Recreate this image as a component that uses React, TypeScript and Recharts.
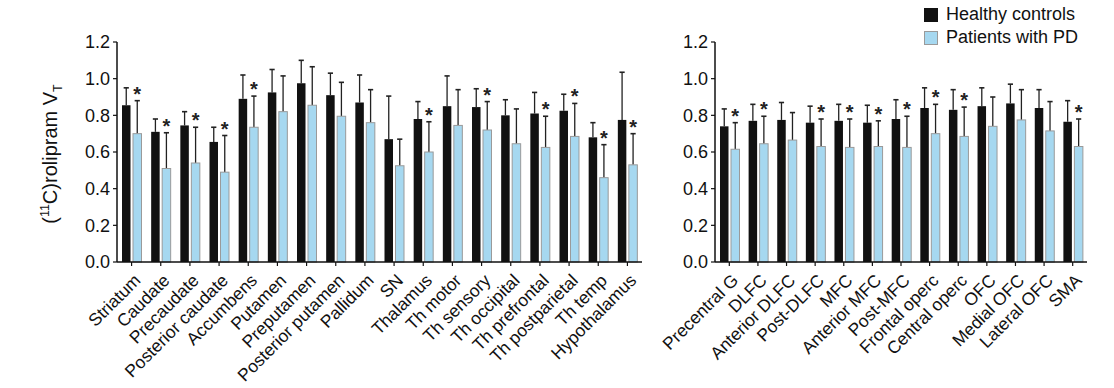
import React from 'react';
import { BarChart, Bar, XAxis, YAxis, Legend } from 'recharts';

// subcortical panel
const subRegions = [
  'Striatum', 'Caudate', 'Precaudate', 'Posterior caudate', 'Accumbens', 'Putamen',
  'Preputamen', 'Posterior putamen', 'Pallidum', 'SN', 'Thalamus', 'Th motor',
  'Th sensory', 'Th occipital', 'Th prefrontal', 'Th postparietal', 'Th temp', 'Hypothalamus',
];
const subControls = [0.855, 0.71, 0.745, 0.655, 0.89, 0.925, 0.975, 0.91, 0.87, 0.67, 0.78, 0.85, 0.845, 0.8, 0.81, 0.825, 0.68, 0.775];
const subControlsSd = [0.095, 0.07, 0.075, 0.08, 0.13, 0.125, 0.125, 0.12, 0.15, 0.235, 0.095, 0.165, 0.1, 0.085, 0.115, 0.09, 0.08, 0.26];
const subPatients = [0.7, 0.51, 0.54, 0.49, 0.735, 0.82, 0.855, 0.795, 0.76, 0.525, 0.6, 0.745, 0.72, 0.645, 0.625, 0.685, 0.46, 0.53];
const subPatientsSd = [0.18, 0.195, 0.195, 0.2, 0.17, 0.195, 0.21, 0.185, 0.18, 0.145, 0.165, 0.195, 0.155, 0.19, 0.17, 0.18, 0.18, 0.17];
const subSignificant = [true, true, true, true, true, false, false, false, false, false, true, false, true, false, true, true, true, true];

// cortical panel
const ctxRegions = [
  'Precentral G', 'DLFC', 'Anterior DLFC', 'Post-DLFC', 'MFC', 'Anterior MFC', 'Post-MFC',
  'Frontal operc', 'Central operc', 'OFC', 'Medial OFC', 'Lateral OFC', 'SMA',
];
const ctxControls = [0.74, 0.77, 0.775, 0.76, 0.77, 0.76, 0.78, 0.84, 0.83, 0.85, 0.865, 0.84, 0.765];
const ctxControlsSd = [0.095, 0.09, 0.095, 0.09, 0.09, 0.095, 0.105, 0.11, 0.11, 0.1, 0.105, 0.1, 0.115];
const ctxPatients = [0.615, 0.645, 0.665, 0.63, 0.625, 0.63, 0.625, 0.7, 0.685, 0.74, 0.775, 0.715, 0.63];
const ctxPatientsSd = [0.145, 0.15, 0.15, 0.15, 0.155, 0.14, 0.17, 0.16, 0.16, 0.16, 0.165, 0.16, 0.15];
const ctxSignificant = [true, true, false, true, true, true, true, true, true, false, false, false, true];

const yTicks = [0, 0.2, 0.4, 0.6, 0.8, 1.0, 1.2];

const HC_COLOR = '#111111';
const PD_COLOR = '#a6d8f0';
const PD_EDGE = '#9a9a9a';
const INK = '#111111';
const FONT = '"Liberation Sans", Arial, Helvetica, sans-serif';

const buildRows = (regions: string[], hc: number[], hcSd: number[], pd: number[], pdSd: number[], sig: boolean[]) =>
  regions.map((region, i) => ({ region, hc: hc[i], hcSd: hcSd[i], pd: pd[i], pdSd: pdSd[i], sig: sig[i] }));

const subData = buildRows(subRegions, subControls, subControlsSd, subPatients, subPatientsSd, subSignificant);
const ctxData = buildRows(ctxRegions, ctxControls, ctxControlsSd, ctxPatients, ctxPatientsSd, ctxSignificant);

// bar + upward error bar (+ star for significant patient bars)
const makeShape = (valueKey: string, sdKey: string, withStar: boolean) => (props: any) => {
  const { x, y, width, height, fill, stroke, payload } = props;
  const v = payload[valueKey];
  const sd = payload[sdKey];
  const pxPerUnit = height / v;
  const errY = y - sd * pxPerUnit;
  const cx = x + width / 2;
  return (
    <g>
      <line x1={cx} x2={cx} y1={y} y2={errY} stroke="#222" strokeWidth={1.3} />
      <line x1={cx - 2.6} x2={cx + 2.6} y1={errY} y2={errY} stroke="#222" strokeWidth={1.6} />
      <rect x={x} y={y} width={width} height={height} fill={fill} stroke={stroke} strokeWidth={stroke ? 1 : 0} />
      {withStar && payload.sig && (
        <text x={cx} y={errY} textAnchor="middle" fontSize={20} fontWeight="bold" fill="#222" fontFamily={FONT}>
          *
        </text>
      )}
    </g>
  );
};

const RegionTick = (props: any) => {
  const { x, y, payload } = props;
  const ax = x + 10;
  const ay = y + 15.5;
  return (
    <text x={ax} y={ay} transform={`rotate(-45 ${ax} ${ay})`} textAnchor="end" fontSize={17.5} fill={INK} fontFamily={FONT}>
      {payload.value}
    </text>
  );
};

const YTitle = () => {
  const cx = 57;
  const cy = 154;
  return (
    <text x={cx} y={cy} transform={`rotate(-90 ${cx} ${cy})`} textAnchor="middle" fontSize={20} fill={INK} fontFamily={FONT}>
      (<tspan fontSize={12.5} dy={-8}>11</tspan>
      <tspan dy={8}>C)rolipram V</tspan>
      <tspan fontSize={12.5} dy={5}>T</tspan>
    </text>
  );
};

const LegendBox = () => (
  <div style={{ fontFamily: FONT, fontSize: 18, color: INK, lineHeight: '23px' }}>
    {[
      { label: 'Healthy controls', fill: HC_COLOR, edge: HC_COLOR },
      { label: 'Patients with PD', fill: PD_COLOR, edge: PD_EDGE },
    ].map((item) => (
      <div key={item.label} style={{ display: 'flex', alignItems: 'center', height: 23 }}>
        <span
          style={{
            display: 'inline-block', width: 12, height: 12, background: item.fill,
            border: `1px solid ${item.edge}`, marginRight: 8,
          }}
        />
        <span>{item.label}</span>
      </div>
    ))}
  </div>
);

const axisLine = { stroke: INK, strokeWidth: 1.5 };
const tickLine = { stroke: INK, strokeWidth: 1.2 };

const Panel = ({ data, width, yAxisWidth, right, title, legend }: any) => (
  <BarChart
    width={width}
    height={388}
    data={data}
    margin={{ top: 42, right, left: 0, bottom: 0 }}
    barSize={8.5}
    barGap={2.5}
  >
    <XAxis
      dataKey="region"
      interval={0}
      height={126}
      tick={<RegionTick />}
      tickSize={4}
      tickMargin={0}
      axisLine={axisLine}
      tickLine={tickLine}
    />
    <YAxis
      width={yAxisWidth}
      domain={[0, 1.2]}
      ticks={yTicks}
      tickFormatter={(v: number) => v.toFixed(1)}
      tick={{ fontSize: 18, fill: INK, fontFamily: FONT }}
      tickSize={4}
      tickMargin={3}
      axisLine={axisLine}
      tickLine={tickLine}
      label={title ? <YTitle /> : undefined}
    />
    {legend && (
      <Legend
        layout="vertical"
        align="center"
        verticalAlign="middle"
        wrapperStyle={{ top: 3, left: 274, width: 190, height: 48 }}
        content={() => <LegendBox />}
      />
    )}
    <Bar dataKey="hc" name="Healthy controls" fill={HC_COLOR} isAnimationActive={false} shape={makeShape('hc', 'hcSd', false)} />
    <Bar dataKey="pd" name="Patients with PD" fill={PD_COLOR} stroke={PD_EDGE} isAnimationActive={false} shape={makeShape('pd', 'pdSd', true)} />
  </BarChart>
);

export default function App() {
  return (
    <div style={{ position: 'absolute', left: 0, top: 0, width: 1114, height: 388, background: '#fff' }}>
      <div style={{ position: 'absolute', left: 0, top: 0 }}>
        <Panel data={subData} width={650} yAxisWidth={117} right={8} title legend={false} />
      </div>
      <div style={{ position: 'absolute', left: 650, top: 0 }}>
        <Panel data={ctxData} width={464} yAxisWidth={65} right={27} title={false} legend />
      </div>
    </div>
  );
}
